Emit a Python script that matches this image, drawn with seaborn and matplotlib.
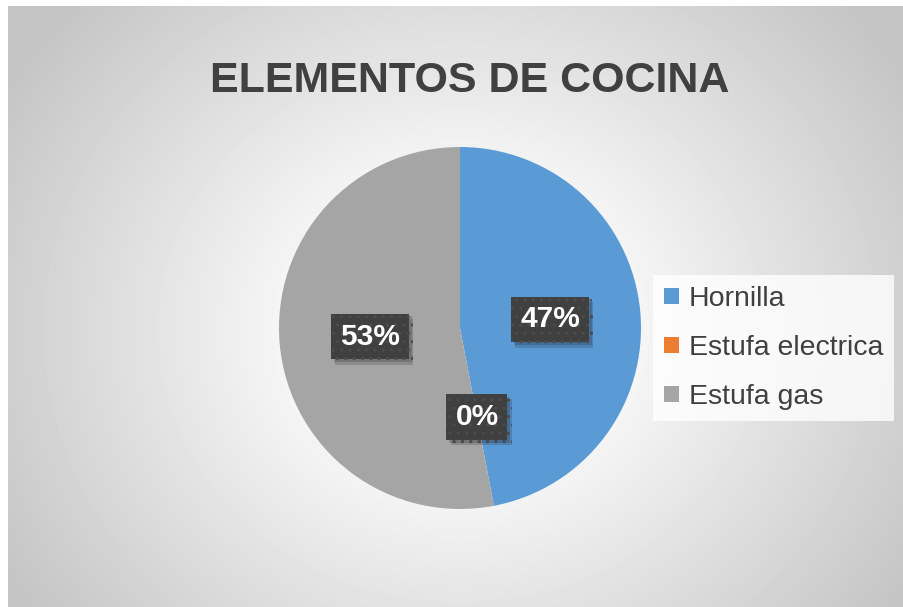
import numpy as np
import matplotlib
matplotlib.use("Agg")
import matplotlib.pyplot as plt
import matplotlib.patheffects as pe
from matplotlib.patches import Patch
import seaborn as sns

# Data
categories = ["Hornilla", "Estufa electrica", "Estufa gas"]
values = [47, 0, 53]
colors = ["#5B9BD5", "#ED7D31", "#A5A5A5"]
title = "ELEMENTOS DE COCINA"

sns.set_theme(style="white")
plt.rcParams["font.family"] = ["Liberation Sans", "DejaVu Sans"]

W, H = 904, 607
fig = plt.figure(figsize=(W / 100, H / 100), dpi=100)
fig.patch.set_facecolor("white")

# radial gradient background of the chart area
x0, y0 = 8, 6
bg = fig.add_axes([x0 / W, 0, 1 - x0 / W, 1 - y0 / H])
xx, yy = np.meshgrid(np.arange(x0, W), np.arange(y0, H))
r = np.sqrt((xx - 460) ** 2 + ((yy - 330) / 0.9) ** 2)
t = np.clip((r - 110) / 420, 0, 1)
shade = 1 - 0.23 * t ** 1.0
bg.imshow(shade, cmap="gray", vmin=0, vmax=1, aspect="auto",
          extent=[0, 1, 0, 1], interpolation="bilinear")
bg.set_axis_off()

# pie
cx, cy, rad = 460, 328, 181
ax = fig.add_axes([(cx - rad) / W, (H - cy - rad) / H, 2 * rad / W, 2 * rad / H])
wedges, texts, autotexts = ax.pie(
    values, colors=colors, startangle=90, counterclock=False,
    autopct="%1.0f%%", pctdistance=0.5,
    wedgeprops=dict(linewidth=0),
    textprops=dict(color="white", fontsize=21.5, fontweight="bold"),
)
ax.set_xlim(-1, 1)
ax.set_ylim(-1, 1)
for at in autotexts:
    at.set_bbox(dict(boxstyle="square,pad=0.3", facecolor="#404040",
                     edgecolor="#4c4c4c", linewidth=0, hatch=".."))
    at.get_bbox_patch().set_path_effects(
        [pe.SimplePatchShadow(offset=(3, -4), alpha=0.18),
         pe.SimplePatchShadow(offset=(2, -2), alpha=0.18),
         pe.Normal()])

# title
fig.text(470 / W, 1 - 81 / H, title, ha="center", va="center",
         fontsize=31, fontweight="bold", color="#404040")

# legend
handles = [Patch(facecolor=c, edgecolor="none") for c in colors]
leg = fig.legend(handles, categories, loc="center left",
                 bbox_to_anchor=(653 / W, 1 - 348 / H),
                 fontsize=20.5, frameon=True, handlelength=0.5, handleheight=0.5,
                 handletextpad=0.35, labelspacing=0.8, borderpad=0.4,
                 borderaxespad=0, fancybox=False)
leg.get_frame().set_facecolor((1, 1, 1, 0.3))
leg.get_frame().set_edgecolor("none")
for txt in leg.get_texts():
    txt.set_color("#404040")

fig.savefig("out.png", dpi=100)
